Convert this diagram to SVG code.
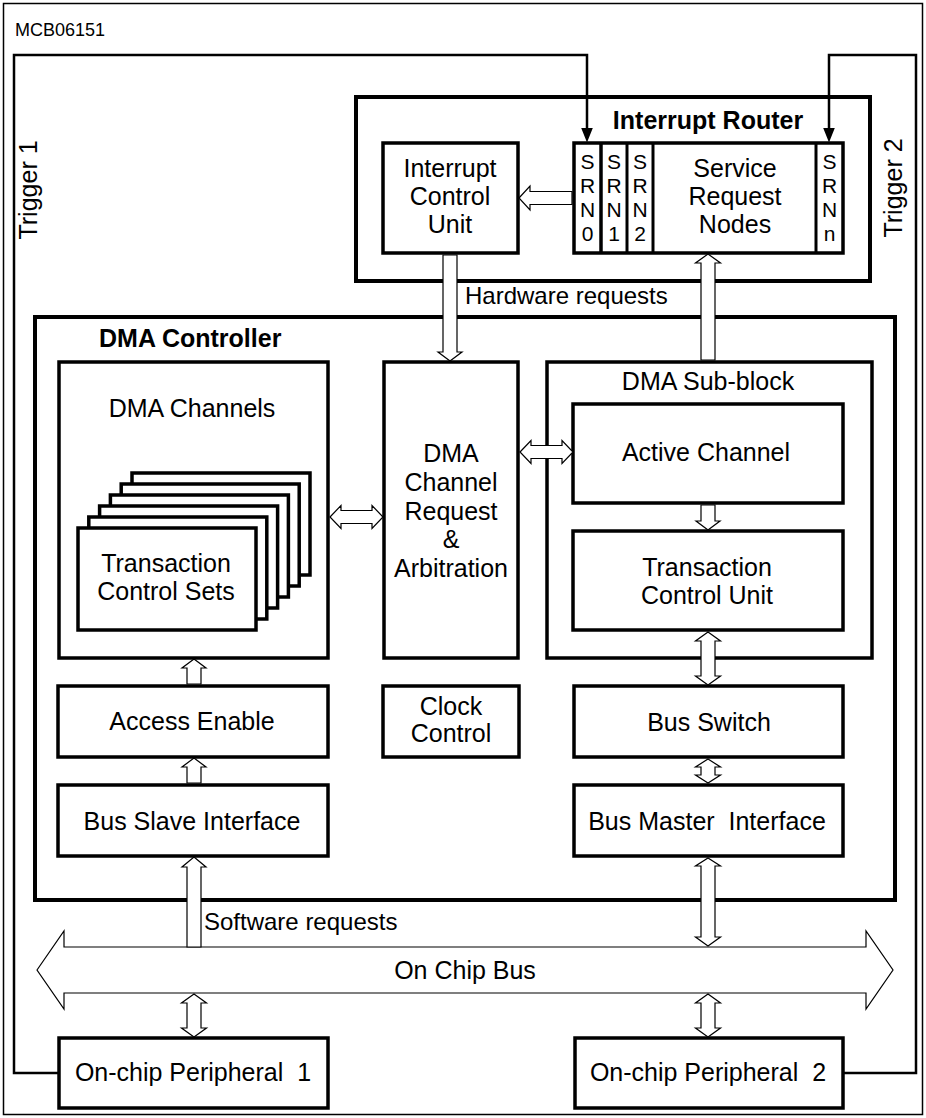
<svg xmlns="http://www.w3.org/2000/svg" width="926" height="1118" viewBox="0 0 926 1118">
<style>
text{font-family:"Liberation Sans",Arial,sans-serif;fill:#000}
.t{font-size:25px}
.c{text-anchor:middle}
.b{font-weight:bold;font-size:25px}
.s{font-size:21px;text-anchor:middle}
.box{fill:#fff;stroke:#000;stroke-width:3.5}
.thick{fill:none;stroke:#000;stroke-width:4}
.ha{fill:#fff;stroke:#000;stroke-width:1.2;stroke-linejoin:miter}
.trig{fill:none;stroke:#000;stroke-width:2.5}
.pre{white-space:pre}
</style>
<defs>
<marker id="ah" viewBox="0 0 15 12" refX="0.5" refY="6" markerWidth="15" markerHeight="12" markerUnits="userSpaceOnUse" orient="auto">
<path d="M0,0 L15,6 L0,12 z" fill="#000"/>
</marker>
</defs>
<rect x="0" y="0" width="926" height="1118" fill="#fff"/>
<rect x="3.5" y="3.5" width="919" height="1111" fill="none" stroke="#000" stroke-width="1.5"/>
<text x="15" y="36" style="font-size:18px">MCB06151</text>

<g id="interrupt-router">
<rect x="356" y="97" width="514" height="184" class="thick"/>
<text x="708" y="129" class="b c">Interrupt Router</text>
</g>
<g id="interrupt-control-unit">
<rect x="383" y="143" width="135" height="110" class="box"/>
<text x="450" y="177" class="t c">Interrupt</text>
<text x="450" y="205" class="t c">Control</text>
<text x="450" y="233" class="t c">Unit</text>
</g>
<g id="service-request-nodes">
<rect x="574" y="143" width="269" height="110" class="box"/>
<line x1="601" y1="143" x2="601" y2="253" stroke="#000" stroke-width="3.5"/>
<line x1="627" y1="143" x2="627" y2="253" stroke="#000" stroke-width="3"/>
<line x1="653" y1="143" x2="653" y2="253" stroke="#000" stroke-width="3"/>
<line x1="816" y1="143" x2="816" y2="253" stroke="#000" stroke-width="3"/>
<text x="587.5" y="169" class="s">S</text><text x="587.5" y="193" class="s">R</text><text x="587.5" y="217" class="s">N</text><text x="587.5" y="241" class="s">0</text>
<text x="614" y="169" class="s">S</text><text x="614" y="193" class="s">R</text><text x="614" y="217" class="s">N</text><text x="614" y="241" class="s">1</text>
<text x="640" y="169" class="s">S</text><text x="640" y="193" class="s">R</text><text x="640" y="217" class="s">N</text><text x="640" y="241" class="s">2</text>
<text x="829.5" y="169" class="s">S</text><text x="829.5" y="193" class="s">R</text><text x="829.5" y="217" class="s">N</text><text x="829.5" y="241" class="s">n</text>
<text x="735" y="177" class="t c">Service</text>
<text x="735" y="205" class="t c">Request</text>
<text x="735" y="233" class="t c">Nodes</text>
</g>

<g id="dma-controller">
<rect x="35" y="317" width="860" height="583" class="thick"/>
<text x="99" y="347" class="b">DMA Controller</text>
</g>
<g id="dma-channels">
<rect x="59" y="362" width="269" height="296" class="box"/>
<text x="192" y="417" class="t c">DMA Channels</text>
<rect x="132" y="473" width="178" height="102" class="box" stroke-width="3"/>
<rect x="121.2" y="484" width="178" height="102" class="box" stroke-width="3"/>
<rect x="110.4" y="495" width="178" height="102" class="box" stroke-width="3"/>
<rect x="99.6" y="506" width="178" height="102" class="box" stroke-width="3"/>
<rect x="88.8" y="517" width="178" height="102" class="box" stroke-width="3"/>
<rect x="78" y="528" width="178" height="102" class="box" stroke-width="3"/>
<text x="166" y="572" class="t c">Transaction</text>
<text x="166" y="600" class="t c">Control Sets</text>
</g>
<g id="arbitration">
<rect x="384" y="362" width="134" height="296" class="box"/>
<text x="451" y="462" class="t c">DMA</text>
<text x="451" y="491" class="t c">Channel</text>
<text x="451" y="520" class="t c">Request</text>
<text x="451" y="548" class="t c">&amp;</text>
<text x="451" y="577" class="t c">Arbitration</text>
</g>
<g id="dma-sub-block">
<rect x="547" y="362" width="325" height="296" class="box" stroke-width="3"/>
<text x="708" y="390" class="t c">DMA Sub-block</text>
</g>
<g id="active-channel">
<rect x="573" y="404" width="270" height="99" class="box"/>
<text x="706" y="461" class="t c">Active Channel</text>
</g>
<g id="transaction-control-unit">
<rect x="573" y="531" width="270" height="99" class="box"/>
<text x="707" y="576" class="t c">Transaction</text>
<text x="707" y="604" class="t c">Control Unit</text>
</g>
<g id="access-enable">
<rect x="58" y="686" width="270" height="71" class="box"/>
<text x="192" y="730" class="t c">Access Enable</text>
</g>
<g id="clock-control">
<rect x="383" y="686" width="136" height="71" class="box"/>
<text x="451" y="715" class="t c">Clock</text>
<text x="451" y="742" class="t c">Control</text>
</g>
<g id="bus-switch">
<rect x="574" y="686" width="269" height="71" class="box"/>
<text x="709" y="731" class="t c">Bus Switch</text>
</g>
<g id="bus-slave-interface">
<rect x="58" y="785" width="270" height="71" class="box"/>
<text x="192" y="830" class="t c">Bus Slave Interface</text>
</g>
<g id="bus-master-interface">
<rect x="574" y="785" width="269" height="71" class="box"/>
<text x="707" y="830" class="t c pre">Bus Master  Interface</text>
</g>
<g id="on-chip-bus">
<polygon points="37,970 64,931 64,947 866,947 866,931 893,970 866,1009 866,993 64,993 64,1009" class="ha"/>
<text x="465" y="979" class="t c">On Chip Bus</text>
</g>
<g id="peripheral-1">
<rect x="59" y="1038" width="269" height="70" class="box"/>
<text x="193" y="1081" class="t c pre">On-chip Peripheral  1</text>
</g>
<g id="peripheral-2">
<rect x="575" y="1038" width="268" height="70" class="box"/>
<text x="708" y="1081" class="t c pre">On-chip Peripheral  2</text>
</g>

<g id="connectors">
<path d="M59,1073 H14 V55 H587 V128" class="trig" marker-end="url(#ah)"/>
<path d="M843,1073 H916 V55 H829 V128" class="trig" marker-end="url(#ah)"/>
<polygon points="443,255 457,255 457,352 462,352 450,361 438,352 443,352" class="ha"/>
<polygon points="708,254 720.5,263 715,263 715,360 701,360 701,263 695.5,263" class="ha"/>
<polygon points="519,198 530,186 530,191.5 572,191.5 572,204.5 530,204.5 530,210" class="ha"/>
<polygon points="330,517 341,505.5 341,510.5 372,510.5 372,505.5 383,517 372,528.5 372,523.5 341,523.5 341,528.5" class="ha"/>
<polygon points="520,452 531,440.5 531,445.5 562,445.5 562,440.5 573,452 562,463.5 562,458.5 531,458.5 531,463.5" class="ha"/>
<polygon points="701,505 715,505 715,521 720,521 708,530 696,521 701,521" class="ha"/>
<polygon points="708,632 720.5,641 715,641 715,676 720.5,676 708,685 695.5,676 701,676 701,641 695.5,641" class="ha"/>
<polygon points="708,759 720.5,767 715,767 715,775 720.5,775 708,783 695.5,775 701,775 701,767 695.5,767" class="ha"/>
<polygon points="708,858 720.5,866 715,866 715,937 720.5,937 708,946 695.5,937 701,937 701,866 695.5,866" class="ha"/>
<polygon points="194,659 206,668 201,668 201,684 187,684 187,668 182,668" class="ha"/>
<polygon points="194,758 206,767 201,767 201,783 187,783 187,767 182,767" class="ha"/>
<polygon points="194,857 206,867 201,867 201,947 187,947 187,867 182,867" class="ha"/>
<polygon points="194,994 206.5,1003 201,1003 201,1028 206.5,1028 194,1037 181.5,1028 187,1028 187,1003 181.5,1003" class="ha"/>
<polygon points="708,994 720.5,1003 715,1003 715,1028 720.5,1028 708,1037 695.5,1028 701,1028 701,1003 695.5,1003" class="ha"/>
</g>
<text x="465" y="304" class="t" style="font-size:24px">Hardware requests</text>
<text x="204" y="930" class="t" style="font-size:24px">Software requests</text>
<text transform="translate(37,190) rotate(-90)" class="t c">Trigger 1</text>
<text transform="translate(902,188) rotate(-90)" class="t c">Trigger 2</text>
</svg>
